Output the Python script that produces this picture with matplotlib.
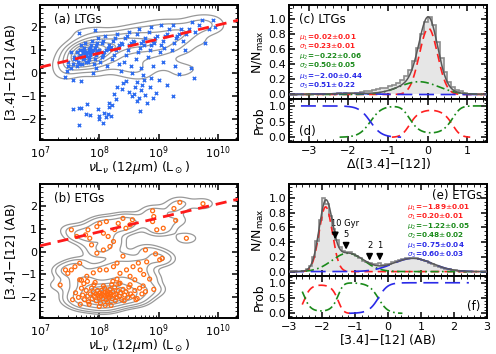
import numpy as np
import matplotlib
matplotlib.use("Agg")
import matplotlib.pyplot as plt
from matplotlib.ticker import MultipleLocator, LogLocator, NullFormatter

plt.rcParams['font.family'] = ['DejaVu Sans']
plt.rcParams['mathtext.fontset'] = 'dejavusans'
plt.rcParams['axes.linewidth'] = 1.4
plt.rcParams['xtick.direction'] = 'in'
plt.rcParams['ytick.direction'] = 'in'
plt.rcParams['xtick.top'] = True
plt.rcParams['ytick.right'] = True
plt.rcParams['xtick.major.size'] = 4
plt.rcParams['ytick.major.size'] = 4
plt.rcParams['xtick.minor.size'] = 2
plt.rcParams['ytick.minor.size'] = 2
plt.rcParams['xtick.major.width'] = 1.1
plt.rcParams['ytick.major.width'] = 1.1
plt.rcParams['xtick.labelsize'] = 8
plt.rcParams['ytick.labelsize'] = 8
plt.rcParams['xtick.major.pad'] = 3
plt.rcParams['ytick.major.pad'] = 2

# ---- LTG scatter: log(nuL_nu) and [3.4]-[12]
ltg_logL = [
    7.55, 7.66, 7.70, 7.78, 7.85, 7.65, 7.80, 7.98, 8.00, 7.99, 8.08, 8.12, 8.15, 8.17, 8.22, 8.07,
    8.19, 8.17, 8.29, 8.38, 8.40, 8.45, 8.50, 8.55, 8.58, 8.60, 8.63, 8.67, 8.70, 8.72, 8.75, 8.78,
    8.80, 8.68, 8.63, 8.85, 8.90, 8.95, 8.88, 9.00, 9.15, 9.35, 9.25, 9.60, 8.30, 8.25, 7.90, 7.70,
    7.45, 7.42, 7.48, 7.47,
    7.52, 7.55, 7.57, 7.58, 7.53, 7.56,
    7.62, 7.64, 7.66, 7.68, 7.63, 7.67, 7.69, 7.61, 7.65, 7.65,
    7.71, 7.73, 7.75, 7.77, 7.79, 7.72, 7.74, 7.76, 7.78, 7.73, 7.75, 7.77, 7.74, 7.76,
    7.81, 7.83, 7.85, 7.87, 7.89, 7.82, 7.84, 7.86, 7.88, 7.83, 7.85, 7.87, 7.84, 7.86,
    7.91, 7.93, 7.95, 7.97, 7.99, 7.92, 7.94, 7.96, 7.98, 7.93, 7.95, 7.97,
    8.02, 8.05, 8.08, 8.11, 8.14, 8.17, 8.04, 8.07, 8.10, 8.13, 8.16, 8.19, 8.06,
    8.22, 8.25, 8.28, 8.31, 8.34, 8.37, 8.24, 8.27, 8.30, 8.33, 8.36, 8.39,
    8.42, 8.45, 8.48, 8.51, 8.54, 8.57, 8.44, 8.47, 8.50, 8.53, 8.56, 8.59,
    8.62, 8.65, 8.68, 8.71, 8.74, 8.77, 8.64, 8.67, 8.70, 8.73, 8.76,
    8.82, 8.85, 8.88, 8.91, 8.94, 8.97, 8.84, 8.87, 8.90, 8.93,
    9.02, 9.05, 9.08, 9.11, 9.14, 9.17, 9.04, 9.07, 9.10,
    9.22, 9.26, 9.30, 9.34, 9.38, 9.24, 9.28, 9.32,
    9.42, 9.47, 9.52, 9.57, 9.45, 9.55,
    9.62, 9.68, 9.74, 9.79, 9.85, 9.92, 9.95,
]
ltg_col = [
    -1.55, -1.50, -1.52, -1.78, -1.80, -2.25, -1.35, -1.55, -1.85, -2.00, -1.72, -1.90, -1.78, -1.45, -1.40, -2.17,
    -1.85, -1.28, -1.12, -0.70, -0.45, -0.35, -0.80, -1.00, -0.90, -0.60, -0.40, -1.10, -0.75, -0.50, -0.30, -0.95,
    -1.30, -1.65, -1.20, -0.60, -1.10, -0.85, -0.20, -0.30, -0.50, -0.05, -1.00, -0.20, -0.60, -0.90, 0.00, -0.35,
    0.10, -0.15, 0.30, 0.50,
    0.20, 0.40, 0.60, 0.70, 0.90, -0.30,
    0.30, 0.50, 0.70, 0.80, 0.90, 1.00, 1.20, 0.60, 0.40, 1.75,
    0.40, 0.60, 0.70, 0.80, 0.90, 1.00, 1.10, 1.30, 0.50, 0.85, 0.95, 0.75, 0.65, 0.88,
    0.50, 0.70, 0.80, 0.90, 1.00, 1.05, 1.10, 1.20, 1.40, 0.60, 0.90, 1.00, 0.85, 0.95,
    0.40, 0.60, 0.80, 0.90, 1.00, 1.10, 1.20, 1.30, 1.50, 1.85, 0.20, 0.95,
    0.50, 0.70, 0.90, 1.00, 1.10, 1.20, 1.30, 1.40, 1.60, 0.30, 1.05, 1.15, 0.80,
    0.60, 0.80, 1.00, 1.10, 1.20, 1.30, 1.40, 1.50, 1.70, 0.40, 0.10, 1.25,
    0.50, 0.80, 1.00, 1.20, 1.30, 1.40, 1.50, 1.60, 1.80, 0.30, 0.00, 1.35,
    0.60, 0.90, 1.10, 1.30, 1.40, 1.50, 1.70, 1.90, 0.20, -0.10, 1.20,
    0.70, 1.00, 1.20, 1.40, 1.50, 1.60, 1.80, 2.00, 0.30, 1.30,
    0.90, 1.20, 1.40, 1.60, 1.70, 1.90, 2.10, 0.50, 1.10,
    1.00, 1.30, 1.50, 1.70, 1.90, 2.10, 0.30, 1.60,
    1.40, 1.70, 1.90, 2.20, 1.00, 0.20,
    1.80, 2.10, 2.30, 1.30, 1.90, 2.30, 2.00,
]

# ---- ETG scatter
etg_logL = [
    9.36, 9.75, 9.26, 9.29, 9.47, 8.90, 8.92, 8.97, 8.90, 9.08, 8.92, 9.02, 9.06, 8.95, 8.80, 8.78,
    8.56, 8.52, 8.45, 8.40, 8.32, 8.26, 8.12, 8.01, 7.96, 8.07, 8.15, 8.24, 8.18, 8.07, 7.96, 7.87,
    7.84, 7.77, 7.81, 7.53, 7.62, 7.67, 7.59, 7.53, 7.47, 7.43, 7.34, 7.67, 7.79, 7.90, 8.01, 8.12,
    8.24, 8.35, 8.46, 8.57, 8.69, 8.60, 8.52, 8.35, 8.23, 8.66, 8.75, 8.85, 8.40, 8.30,
    7.60, 7.65, 7.70, 7.72, 7.75, 7.78, 7.80, 7.82, 7.85, 7.87, 7.88, 7.90, 7.92, 7.94, 7.95, 7.97,
    7.98, 8.00, 8.01, 8.03, 8.04, 8.05, 8.06, 8.08, 8.09, 8.10, 8.11, 8.12, 8.13, 8.14, 8.15, 8.16,
    8.17, 8.18, 8.19, 8.20, 8.22, 8.23, 8.25, 8.26, 8.28, 8.30, 8.32, 8.34, 8.36, 8.38, 8.40, 8.43,
    8.45, 8.48, 8.50, 8.53, 8.56, 8.60, 8.64, 8.68, 8.72, 8.78, 7.55, 7.68, 7.74, 7.83, 7.91, 8.02,
    8.07, 8.14, 8.21, 8.27, 8.33, 8.42, 8.52, 8.62, 8.74, 7.70, 7.80, 7.93, 8.00, 8.10, 8.20, 8.30,
]
etg_col = [
    2.15, 2.09, 1.88, 1.36, 0.58, 1.78, 1.53, 0.95, 1.31, 1.02, -1.65, -0.36, -0.30, -0.10, -0.45, 0.07,
    1.39, 1.17, 1.02, 1.45, 1.23, 0.96, 1.31, 1.23, 1.09, 0.80, 0.66, 0.44, 0.22, 0.07, -0.07, 0.29,
    0.58, 0.73, 0.95, 0.95, 0.66, -0.51, -0.66, -0.80, -0.95, -0.80, -1.46, -1.23, -1.08, -0.93, -0.80, -0.80,
    -0.66, -0.95, -0.80, -0.66, -0.80, -1.23, -1.08, -1.38, -1.30, -0.50, -1.00, -1.20, -0.20, -0.50,
    -1.80, -2.00, -1.60, -1.90, -2.10, -1.70, -1.95, -2.20, -1.85, -1.60, -2.05, -1.75, -1.95, -1.85, -2.15, -1.70,
    -1.90, -2.00, -1.80, -1.95, -1.70, -1.85, -2.05, -1.90, -1.60, -1.80, -1.95, -2.10, -1.85, -1.75, -1.90, -2.00,
    -1.80, -1.65, -1.95, -1.85, -2.05, -1.75, -1.90, -1.55, -1.85, -2.00, -1.70, -1.95, -1.80, -2.10, -1.65, -1.90,
    -1.75, -2.00, -1.55, -1.85, -1.95, -1.70, -2.05, -1.60, -1.85, -1.75, -2.10, -2.30, -1.40, -2.30, -1.45, -2.25,
    -1.50, -2.20, -1.45, -2.15, -1.40, -2.15, -1.45, -2.10, -1.50, -1.25, -1.30, -1.35, -2.40, -2.35, -2.35, -1.20,
]

# red dashed relation: [3.4]-[12] = a + b*(logL - 7)
rel_a, rel_b = 0.25, 0.61

# ---- LTG histogram of Delta([3.4]-[12]), bin centres step 0.1
ltg_bins = [-3.25, -3.15, -3.05, -2.95, -2.85, -2.75, -2.65, -2.55, -2.45, -2.35, -2.25, -2.15, -2.05, -1.95,
            -1.85, -1.75, -1.65, -1.55, -1.45, -1.35, -1.25, -1.15, -1.05, -0.95, -0.85, -0.75, -0.65,
            -0.55, -0.45, -0.35, -0.25, -0.15, -0.05, 0.05, 0.15, 0.25, 0.35, 0.45, 0.55, 0.65, 0.75,
            0.85, 0.95, 1.05, 1.15, 1.25, 1.35]
ltg_hist = [0.0, 0.005, 0.0, 0.005, 0.005, 0.0, 0.01, 0.005, 0.01, 0.01, 0.015, 0.01, 0.02, 0.015,
            0.02, 0.025, 0.035, 0.04, 0.05, 0.06, 0.07, 0.08, 0.09, 0.11, 0.13, 0.15, 0.19,
            0.24, 0.33, 0.45, 0.62, 0.80, 0.97, 1.03, 0.92, 0.70, 0.48, 0.30, 0.17, 0.10, 0.06,
            0.04, 0.02, 0.01, 0.01, 0.005, 0.0]
ltg_mu = [0.02, -0.22, -2.00]
ltg_sig = [0.23, 0.50, 0.51]
ltg_amp = [0.88, 0.17, 0.015]
ltg_range = (-3.2, 1.45)

# ---- ETG histogram of [3.4]-[12]
etg_bins = [-2.55, -2.45, -2.35, -2.25, -2.15, -2.05, -1.95, -1.85, -1.75, -1.65, -1.55, -1.45, -1.35, -1.25,
            -1.15, -1.05, -0.95, -0.85, -0.75, -0.65, -0.55, -0.45, -0.35, -0.25, -0.15, -0.05, 0.05,
            0.15, 0.25, 0.35, 0.45, 0.55, 0.65, 0.75, 0.85, 0.95, 1.05, 1.15, 1.25, 1.35, 1.45, 1.55,
            1.65, 1.75, 1.85, 1.95, 2.05, 2.15, 2.25, 2.35]
etg_hist = [0.01, 0.03, 0.08, 0.20, 0.42, 0.70, 1.00, 0.92, 0.76, 0.58, 0.43, 0.34, 0.28, 0.27,
            0.26, 0.24, 0.21, 0.18, 0.15, 0.13, 0.12, 0.10, 0.10, 0.12, 0.09, 0.10, 0.11,
            0.13, 0.14, 0.16, 0.17, 0.18, 0.18, 0.19, 0.18, 0.17, 0.16, 0.14, 0.12, 0.10, 0.08, 0.06,
            0.05, 0.04, 0.03, 0.02, 0.015, 0.01, 0.005, 0.0]
etg_mu = [-1.89, -1.22, 0.75]
etg_sig = [0.20, 0.48, 0.60]
etg_amp = [0.88, 0.25, 0.18]
etg_range = (-2.6, 2.45)

# model age arrows in panel (e)
age_lbl = ['10 Gyr', '5', '2', '1']
age_x = [-1.6, -1.27, -0.56, -0.25]
age_top = [0.57, 0.43, 0.27, 0.27]
age_tip = [0.40, 0.26, 0.11, 0.11]

ltg_txt = [r'$\mu_1$=0.02$\pm$0.01', r'$\sigma_1$=0.23$\pm$0.01',
           r'$\mu_2$=$-$0.22$\pm$0.06', r'$\sigma_2$=0.50$\pm$0.05',
           r'$\mu_3$=$-$2.00$\pm$0.44', r'$\sigma_3$=0.51$\pm$0.22']
etg_txt = [r'$\mu_1$=$-$1.89$\pm$0.01', r'$\sigma_1$=0.20$\pm$0.01',
           r'$\mu_2$=$-$1.22$\pm$0.05', r'$\sigma_2$=0.48$\pm$0.02',
           r'$\mu_3$=0.75$\pm$0.04', r'$\sigma_3$=0.60$\pm$0.03']
comp_col = ['#ff2020', '#1a8a1a', '#2a2ae8']
comp_ls = [(0, (5, 3)), (0, (5, 2, 1, 2)), (0, (9, 4))]


def kde(px, py, gx, gy, hx, hy):
    X, Y = np.meshgrid(gx, gy)
    z = np.zeros_like(X)
    for a, b in zip(px, py):
        z += np.exp(-0.5 * ((X - a) / hx) ** 2 - 0.5 * ((Y - b) / hy) ** 2)
    return X, Y, z


def left_panel(ax, logL, col, kind, label, levels, bw, cmin):
    logL = np.array(logL)
    col = np.array(col)
    keep = col > cmin  # contours follow the main locus only
    gx = np.linspace(6.9, 10.5, 220)
    gy = np.linspace(-3.2, 3.2, 220)
    X, Y, z = kde(logL[keep], col[keep], gx, gy, bw[0], bw[1])
    ax.contour(10 ** X, Y, z, levels=np.array(levels) * z.max(), colors='0.6', linewidths=0.9)
    if kind == 'ltg':
        ax.scatter(10 ** logL, col, marker='x', s=6, lw=1.0, color='#2f6df0', zorder=3)
    else:
        ax.scatter(10 ** logL, col, marker='o', s=8, lw=0.9, facecolor='none',
                   edgecolor='#ff6a10', zorder=3)
    xl = np.array([7.0, 10.35])
    ax.plot(10 ** xl, rel_a + rel_b * (xl - 7), color='#ff1a1a', lw=2.0, dashes=(4, 2.5), zorder=4)
    ax.set_xscale('log')
    ax.set_xlim(1e7, 2.2e10)
    ax.set_ylim(-2.9, 2.95)
    ax.yaxis.set_major_locator(MultipleLocator(1))
    ax.yaxis.set_minor_locator(MultipleLocator(0.2))
    ax.xaxis.set_minor_locator(LogLocator(subs=np.arange(2, 10)))
    ax.xaxis.set_minor_formatter(NullFormatter())
    ax.set_ylabel('[3.4]$-$[12] (AB)', fontsize=9, labelpad=2)
    ax.set_xlabel(r'$\nu$L$_\nu$ (12$\mu$m) (L$_\odot$)', fontsize=9, labelpad=-1)
    ax.text(0.07, 0.89, label, transform=ax.transAxes, fontsize=8.5, va='center')


def gauss(x, m, s, a):
    return a * np.exp(-0.5 * ((x - m) / s) ** 2)


def hist_panel(ax, axp, bins, hist, mu, sig, amp, rng, xlim):
    bins = np.array(bins)
    hist = np.array(hist)
    edges = np.append(bins - 0.05, bins[-1] + 0.05)
    ax.stairs(hist, edges, fill=True, color='0.9', zorder=1)
    ax.stairs(hist, edges, color='0.55', lw=1.2, zorder=2)
    x = np.linspace(xlim[0], xlim[1], 600)
    comps = [gauss(x, m, s, a) for m, s, a in zip(mu, sig, amp)]
    tot = sum(comps)
    for c, col, ls in zip(comps, comp_col, comp_ls):
        ax.plot(x, c, color=col, ls=ls, lw=1.2, zorder=3)
    ax.plot(x, tot, color='0.35', lw=1.1, zorder=4)
    ax.set_xlim(*xlim)
    ax.set_ylim(-0.06, 1.19)
    ax.yaxis.set_major_locator(MultipleLocator(0.2))
    ax.yaxis.set_minor_locator(MultipleLocator(0.05))
    ax.xaxis.set_major_locator(MultipleLocator(1))
    ax.xaxis.set_minor_locator(MultipleLocator(0.2))
    ax.tick_params(labelbottom=False)
    ax.set_ylabel(r'N/N$_{\rm max}$', fontsize=9, labelpad=2)
    m = (x >= rng[0]) & (x <= rng[1])
    for c, col, ls in zip(comps, comp_col, comp_ls):
        p = np.where(m, c / tot, np.nan)
        p[p < 0.004] = np.nan
        axp.plot(x, p, color=col, ls=ls, lw=1.2)
    axp.set_xlim(*xlim)
    axp.set_ylim(-0.15, 1.22)
    axp.yaxis.set_major_locator(MultipleLocator(0.5))
    axp.yaxis.set_minor_locator(MultipleLocator(0.1))
    axp.xaxis.set_major_locator(MultipleLocator(1))
    axp.xaxis.set_minor_locator(MultipleLocator(0.2))
    axp.set_ylabel('Prob', fontsize=9, labelpad=2)


fig = plt.figure(figsize=(4.96, 3.54), dpi=100)
ax_a = fig.add_axes([0.0806, 0.6045, 0.3994, 0.3815])
ax_b = fig.add_axes([0.0806, 0.1017, 0.3994, 0.3785])
ax_c = fig.add_axes([0.5827, 0.7203, 0.3993, 0.2657])
ax_d = fig.add_axes([0.5827, 0.5989, 0.3993, 0.1214])
ax_e = fig.add_axes([0.5827, 0.2203, 0.3993, 0.2597])
ax_f = fig.add_axes([0.5827, 0.1017, 0.3993, 0.1186])

left_panel(ax_a, ltg_logL, ltg_col, 'ltg', '(a) LTGs',
           [0.05, 0.12, 0.22, 0.34, 0.48, 0.62, 0.76, 0.9], (0.17, 0.22), -0.2)
left_panel(ax_b, etg_logL, etg_col, 'etg', '(b) ETGs',
           [0.025, 0.05, 0.1, 0.2, 0.35, 0.5, 0.65, 0.8], (0.15, 0.2), -9.0)

hist_panel(ax_c, ax_d, ltg_bins, ltg_hist, ltg_mu, ltg_sig, ltg_amp, ltg_range, (-3.5, 1.5))
hist_panel(ax_e, ax_f, etg_bins, etg_hist, etg_mu, etg_sig, etg_amp, etg_range, (-3.0, 3.0))

ax_d.set_xlabel('$\\Delta$([3.4]$-$[12])', fontsize=9, labelpad=0)
ax_f.set_xlabel('[3.4]$-$[12] (AB)', fontsize=9, labelpad=0)

ax_c.text(-3.25, 1.0, '(c) LTGs', fontsize=8.5, va='center')
ax_d.text(-3.25, 0.17, '(d)', fontsize=8.5, va='center')
ax_e.text(2.85, 1.04, '(e) ETGs', fontsize=8.5, va='center', ha='right')
ax_f.text(2.8, 0.22, '(f)', fontsize=8.5, va='center', ha='right')

ys_c = [0.755, 0.635, 0.495, 0.375, 0.235, 0.115]
for i, (t, y) in enumerate(zip(ltg_txt, ys_c)):
    ax_c.text(-3.25, y, t, color=comp_col[i // 2], fontsize=5.2, va='center', fontweight='bold')
ys_e = [0.87, 0.75, 0.61, 0.49, 0.35, 0.23]
for i, (t, y) in enumerate(zip(etg_txt, ys_e)):
    ax_e.text(0.58, y, t, color=comp_col[i // 2], fontsize=5.2, va='center', fontweight='bold')

for lbl, x0, yt, yp in zip(age_lbl, age_x, age_top, age_tip):
    ax_e.annotate('', xy=(x0, yp), xytext=(x0, yt),
                  arrowprops=dict(arrowstyle='-|>', color='black', lw=1.3, mutation_scale=9), zorder=6)
    ax_e.text(x0 if lbl != '10 Gyr' else x0 - 0.12, yt + 0.02, lbl, fontsize=6, va='bottom',
              ha='center' if lbl != '10 Gyr' else 'left')

fig.savefig('out.png', dpi=100)
